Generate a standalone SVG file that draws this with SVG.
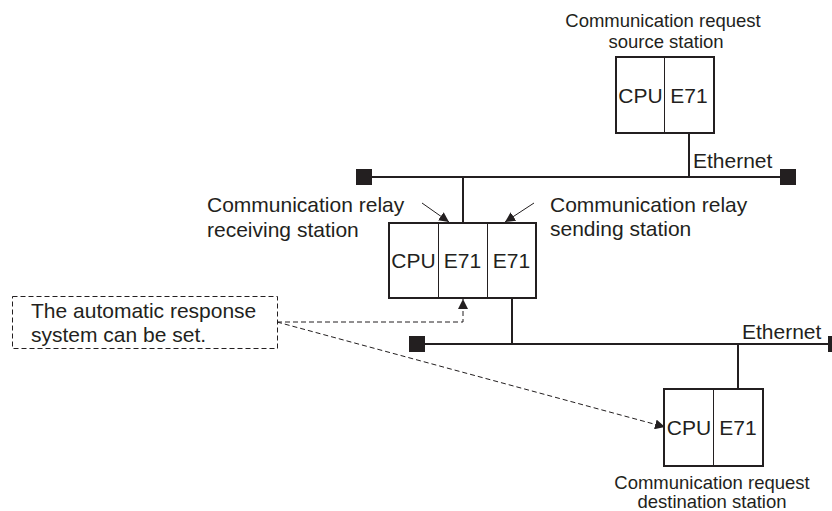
<svg xmlns="http://www.w3.org/2000/svg" width="832" height="511" viewBox="0 0 832 511">
<defs>
<style>
.t{font-family:"Liberation Sans",Arial,sans-serif;fill:#231f20}
.big{font-size:21px}
.sm{font-size:18.5px}
.mid{text-anchor:middle}
.box{fill:#fff;stroke:#231f20;stroke-width:2}
.div{stroke:#231f20;stroke-width:1}
.net{stroke:#231f20;stroke-width:2;fill:none}
.term{fill:#231f20}
.ar{stroke:#231f20;stroke-width:1;fill:none}
.dash{stroke:#231f20;stroke-width:1;fill:none;stroke-dasharray:5,3}
</style>
<marker id="ah" markerWidth="10" markerHeight="10" viewBox="0 0 10 10" refX="10" refY="5" orient="auto" markerUnits="userSpaceOnUse">
<path d="M0,0 L10,5 L0,10 z" fill="#231f20"/>
</marker>
</defs>
<g id="connectors">
<line class="net" x1="372" y1="177" x2="780" y2="177"/>
<rect class="term" x="356" y="169" width="16" height="16"/>
<rect class="term" x="780" y="169" width="16" height="16"/>
<line class="net" x1="425" y1="344" x2="832" y2="344"/>
<rect class="term" x="409" y="336" width="16" height="16"/>
<rect class="term" x="828" y="336" width="16" height="16"/>
<line class="net" x1="689" y1="133" x2="689" y2="177"/>
<line class="net" x1="463" y1="177" x2="463" y2="223"/>
<line class="net" x1="512" y1="298" x2="512" y2="344"/>
<line class="net" x1="738" y1="344" x2="738" y2="389"/>
<line class="ar" x1="422" y1="203" x2="449" y2="222" marker-end="url(#ah)"/>
<line class="ar" x1="534" y1="203" x2="505" y2="222" marker-end="url(#ah)"/>
<path class="dash" d="M277,322 H463 V299" marker-end="url(#ah)"/>
<line class="dash" x1="277" y1="322" x2="665" y2="427" marker-end="url(#ah)"/>
<text class="t big" x="693" y="168">Ethernet</text>
<text class="t big" x="742" y="339">Ethernet</text>
</g>
<g id="source">
<rect class="box" x="616" y="57" width="98" height="76"/>
<line class="div" x1="664.5" y1="57" x2="664.5" y2="133"/>
<text class="t big mid" x="640.5" y="102.5">CPU</text>
<text class="t big mid" x="689" y="102.5">E71</text>
<text class="t sm mid" x="663" y="27">Communication request</text>
<text class="t sm mid" x="666" y="48">source station</text>
</g>
<g id="relay">
<rect class="box" x="389" y="223" width="147" height="75"/>
<line class="div" x1="438.5" y1="223" x2="438.5" y2="298"/>
<line class="div" x1="487.5" y1="223" x2="487.5" y2="298"/>
<text class="t big mid" x="413.5" y="268">CPU</text>
<text class="t big mid" x="462.5" y="268">E71</text>
<text class="t big mid" x="511.5" y="268">E71</text>
</g>
<g id="receiving-label">
<text class="t big" x="207" y="212">Communication relay</text>
<text class="t big" x="207" y="237">receiving station</text>
</g>
<g id="sending-label">
<text class="t big" x="550" y="212">Communication relay</text>
<text class="t big" x="550" y="236">sending station</text>
</g>
<g id="note">
<rect class="dash" x="12.5" y="296.5" width="265" height="52"/>
<text class="t big" x="31" y="318">The automatic response</text>
<text class="t big" x="31" y="342">system can be set.</text>
</g>
<g id="destination">
<rect class="box" x="664" y="389" width="99" height="77"/>
<line class="div" x1="713.5" y1="389" x2="713.5" y2="466"/>
<text class="t big mid" x="689" y="435">CPU</text>
<text class="t big mid" x="738" y="435">E71</text>
<text class="t sm mid" x="712" y="489">Communication request</text>
<text class="t sm mid" x="712" y="508">destination station</text>
</g>
</svg>
